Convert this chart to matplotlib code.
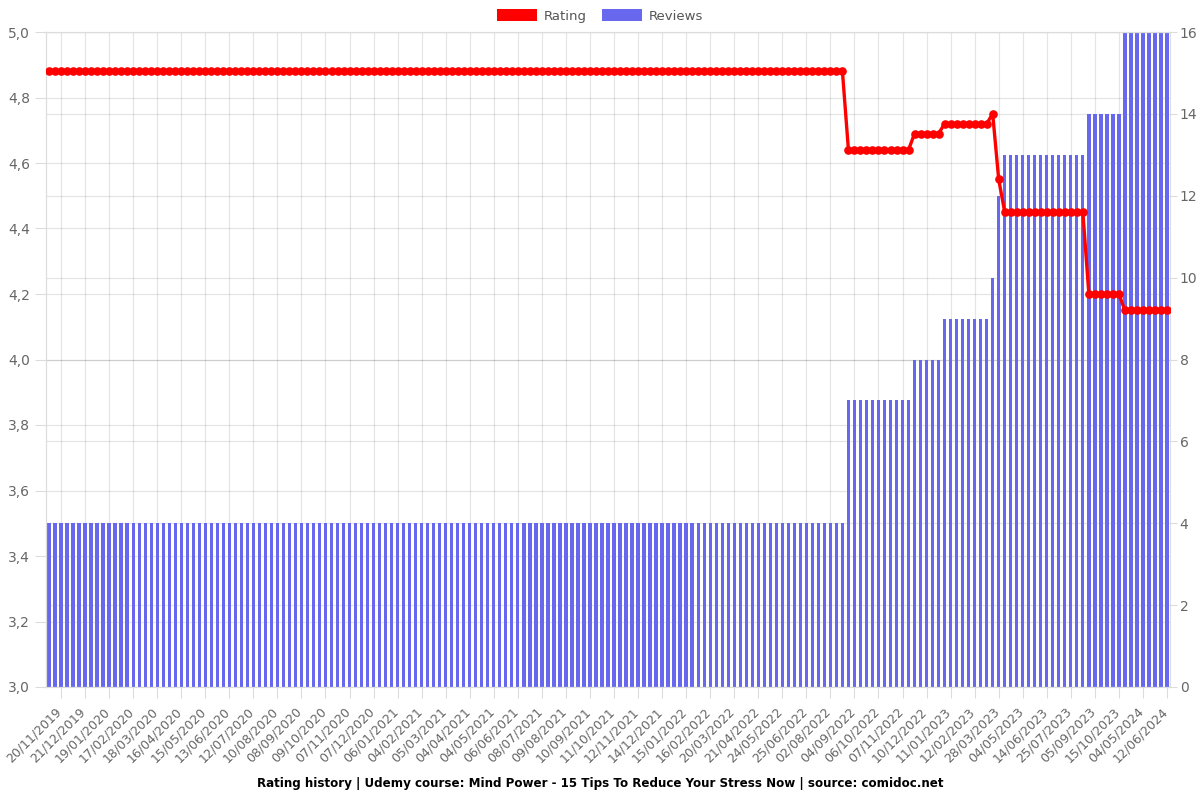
import matplotlib
matplotlib.use("Agg")
import matplotlib.pyplot as plt
import matplotlib.transforms as mtransforms
from matplotlib.patches import Patch
from matplotlib.lines import Line2D
from matplotlib.ticker import FuncFormatter, MultipleLocator

# ---- data ----
tick_labels = [
    "20/11/2019", "21/12/2019", "19/01/2020", "17/02/2020", "18/03/2020", "16/04/2020",
    "15/05/2020", "13/06/2020", "12/07/2020", "10/08/2020", "08/09/2020", "09/10/2020",
    "07/11/2020", "07/12/2020", "06/01/2021", "04/02/2021", "05/03/2021", "04/04/2021",
    "04/05/2021", "06/06/2021", "08/07/2021", "09/08/2021", "10/09/2021", "11/10/2021",
    "12/11/2021", "14/12/2021", "15/01/2022", "16/02/2022", "20/03/2022", "21/04/2022",
    "24/05/2022", "25/06/2022", "02/08/2022", "04/09/2022", "06/10/2022", "07/11/2022",
    "10/12/2022", "11/01/2023", "12/02/2023", "28/03/2023", "04/05/2023", "14/06/2023",
    "25/07/2023", "05/09/2023", "15/10/2023", "04/05/2024", "12/06/2024",
]

rating = ([4.88] * 133 + [4.64] * 11 + [4.69] * 5 + [4.72] * 8 + [4.75] * 1
          + [4.55] * 1 + [4.45] * 14 + [4.20] * 6 + [4.15] * 8)
reviews = ([4] * 133 + [7] * 11 + [8] * 5 + [9] * 8 + [10] * 1
           + [12] * 1 + [13] * 14 + [14] * 6 + [16] * 8)

n = len(rating)
x = list(range(n))
tick_pos = [2 + 4 * k for k in range(len(tick_labels))]

RED = "#ff0000"
BLUE = "#6868ee"
SPINE = "#dcdcdc"
TXT = "#666666"

fig = plt.figure(figsize=(12, 8), dpi=100)
rect = [46 / 1200, 1 - 687 / 800, (1170 - 46) / 1200, (687 - 32) / 800]
ax_r = fig.add_axes(rect)          # reviews (bottom layer, right ticks)
ax_l = ax_r.twinx()                # rating (top layer, left ticks)
ax_r.yaxis.tick_right()
ax_l.yaxis.tick_left()

ax_r.bar(x, reviews, width=0.55, color=BLUE, zorder=2)
ax_l.plot(x, rating, color=RED, lw=2.4, marker="o", markersize=5.2, zorder=3)

ax_r.set_xlim(-0.5, n - 0.5)
ax_r.set_ylim(0, 16)
ax_l.set_ylim(3.0, 5.0)
ax_r.yaxis.set_major_locator(MultipleLocator(2))
ax_l.yaxis.set_major_locator(MultipleLocator(0.2))
ax_l.yaxis.set_major_formatter(FuncFormatter(lambda v, p: f"{v:.1f}".replace(".", ",")))

ax_r.set_xticks(tick_pos)
ax_r.set_xticklabels(tick_labels, rotation=45, ha="right", rotation_mode="anchor")

for a in (ax_r, ax_l):
    for s in a.spines.values():
        s.set_color(SPINE)
    a.tick_params(colors=SPINE, labelcolor=TXT, length=8, labelsize=10)
ax_r.tick_params(axis="x", labelsize=9)
ax_r.tick_params(axis="y", length=5, pad=2)

shift = mtransforms.ScaledTranslation(-6 / 100, -2 / 100, fig.dpi_scale_trans)
for lab in ax_r.get_xticklabels():
    lab.set_transform(lab.get_transform() + shift)

# grids behind the bars
ax_r.set_axisbelow(True)
ax_r.grid(True, axis="both", color="black", alpha=0.1, lw=0.9, zorder=0)
blend = mtransforms.blended_transform_factory(ax_r.transAxes, ax_l.transData)
for v in [3.0 + 0.2 * k for k in range(11)]:
    ax_r.add_line(Line2D([0, 1], [v, v], transform=blend, color="black", alpha=0.1,
                         lw=0.9, zorder=0.5))

handles = [Patch(facecolor=RED, label="Rating"), Patch(facecolor=BLUE, label="Reviews")]
fig.legend(handles=handles, loc="upper center", bbox_to_anchor=(0.5, 1.003), ncol=2,
           frameon=False, fontsize=9.5, handlelength=3.0, handleheight=1.0,
           columnspacing=1.2, handletextpad=0.5, labelcolor="#555555")

fig.text(0.5, 1 - 783 / 800, "Rating history | Udemy course: Mind Power - 15 Tips To Reduce Your Stress Now | source: comidoc.net",
         ha="center", va="center", fontsize=8.6, fontweight="bold", color="black")

fig.savefig("out.png", dpi=100)
